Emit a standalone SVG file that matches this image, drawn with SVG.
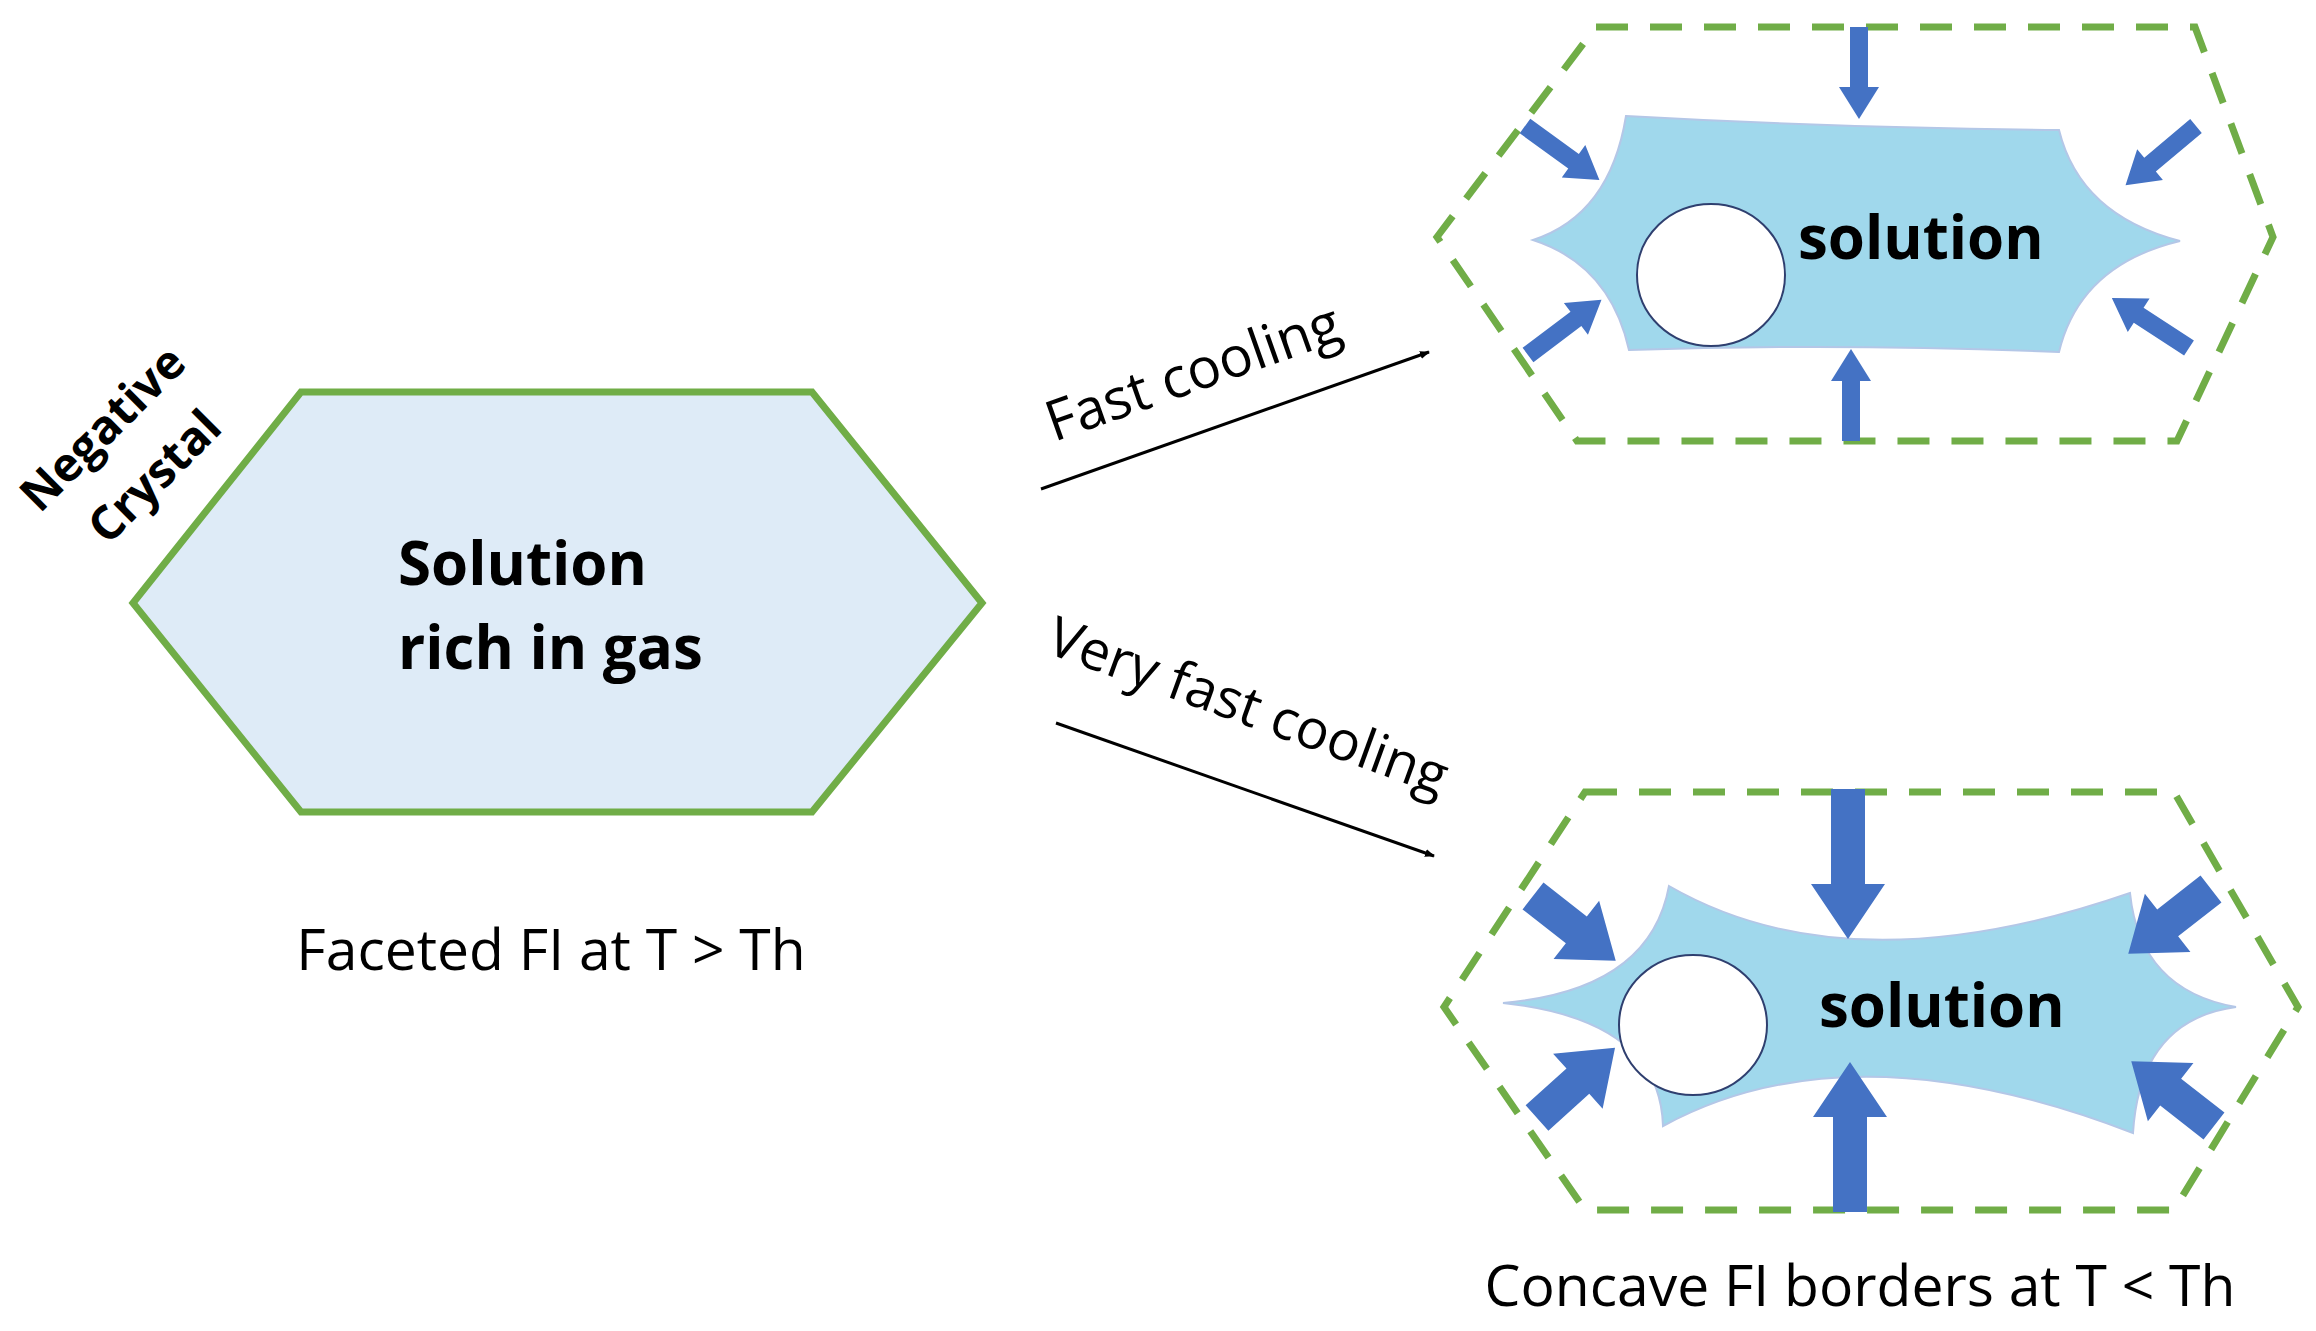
<svg xmlns="http://www.w3.org/2000/svg" width="2316" height="1331" viewBox="0 0 2316 1331">
<style>
.t{font-family:"Open Sans","Liberation Sans",sans-serif;fill:#000}
.b{font-weight:bold}
.dash{fill:none;stroke:#70ad47;stroke-width:7;stroke-dasharray:32 22}
.inc{fill:#a0d8ec;stroke:#b4c7e7;stroke-width:2}
.bub{fill:#fff;stroke:#2f3f6f;stroke-width:2}
.ba{fill:#4472c4}
.con{stroke:#000;stroke-width:3;fill:none}
</style>
<defs>
<path id="sa" d="M0,-9 H60 V-20 L92,0 L60,20 V9 H0 Z"/>
<path id="bv" d="M0,-17 H95 V-37 L150,0 L95,37 V17 H0 Z"/>
<path id="bd" d="M0,-17 H55 V-37 L105,0 L55,37 V17 H0 Z"/>
<marker id="ah" markerWidth="10" markerHeight="8" refX="9" refY="4" orient="auto" markerUnits="userSpaceOnUse" viewBox="0 0 10 8"><path d="M0,0 L10,4 L0,8 Z" fill="#000"/></marker>
</defs>
<rect width="2316" height="1331" fill="#fff"/>
<g id="main">
<polygon points="301,392 812,392 982,603 812,812 301,812 133,603" fill="#deebf7" stroke="#70ad47" stroke-width="7"/>
<text class="t b" x="398" y="585" font-size="60">Solution</text>
<text class="t b" x="398" y="669" font-size="60">rich in gas</text>
<text class="t b" font-size="47" text-anchor="middle" transform="translate(114,440) rotate(-45)">Negative</text>
<text class="t b" font-size="47" text-anchor="middle" transform="translate(166,488) rotate(-45)">Crystal</text>
<text class="t" x="551" y="970" font-size="57" text-anchor="middle">Faceted FI at T &gt; Th</text>
</g>
<g id="top">
<polygon class="dash" points="1596,27 2195,27 2273,237 2177,441 1577,441 1437,237"/>
<path class="inc" d="M1626,116 Q1840,128 2059,130 Q2080,215 2180,241 Q2080,265 2059,352 Q1840,343 1629,350 Q1610,265 1533,240 Q1610,215 1626,116 Z"/>
<ellipse class="bub" cx="1711" cy="275" rx="74" ry="71"/>
<text class="t b" x="1798" y="259" font-size="60">solution</text>
<g class="ba">
<use href="#sa" transform="translate(1859,27) rotate(90)"/>
<use href="#sa" transform="translate(1851,441) rotate(-90)"/>
<use href="#sa" transform="translate(1525,126) rotate(36)"/>
<use href="#sa" transform="translate(2196,126) rotate(140)"/>
<use href="#sa" transform="translate(1528,355) rotate(-37)"/>
<use href="#sa" transform="translate(2189,348) rotate(-147)"/>
</g>
</g>
<g id="bottom">
<polygon class="dash" points="1585,792 2174,792 2298,1007 2174,1210 1585,1210 1444,1007"/>
<path class="inc" d="M1669,886 Q1850,990 2130,893 Q2140,990 2236,1007 Q2140,1020 2133,1133 Q1850,1024 1663,1126 Q1660,1020 1503,1003 Q1650,990 1669,886 Z"/>
<ellipse class="bub" cx="1693" cy="1025" rx="74" ry="70"/>
<text class="t b" x="1819" y="1027" font-size="60">solution</text>
<g class="ba">
<use href="#bv" transform="translate(1848,789) rotate(90)"/>
<use href="#bv" transform="translate(1850,1212) rotate(-90)"/>
<use href="#bd" transform="translate(1533,896) rotate(38)"/>
<use href="#bd" transform="translate(2211,889) rotate(142)"/>
<use href="#bd" transform="translate(1537,1118) rotate(-42)"/>
<use href="#bd" transform="translate(2214,1126) rotate(-142)"/>
</g>
<text class="t" x="1860" y="1306" font-size="57" text-anchor="middle">Concave FI borders at T &lt; Th</text>
</g>
<g id="connectors">
<line class="con" x1="1041" y1="489" x2="1429" y2="352" marker-end="url(#ah)"/>
<line class="con" x1="1056" y1="723" x2="1434" y2="856" marker-end="url(#ah)"/>
<text class="t" font-size="56" transform="translate(1054,442) rotate(-19.5)">Fast cooling</text>
<text class="t" font-size="55" transform="translate(1044,652) rotate(20)">Very fast cooling</text>
</g>
</svg>
